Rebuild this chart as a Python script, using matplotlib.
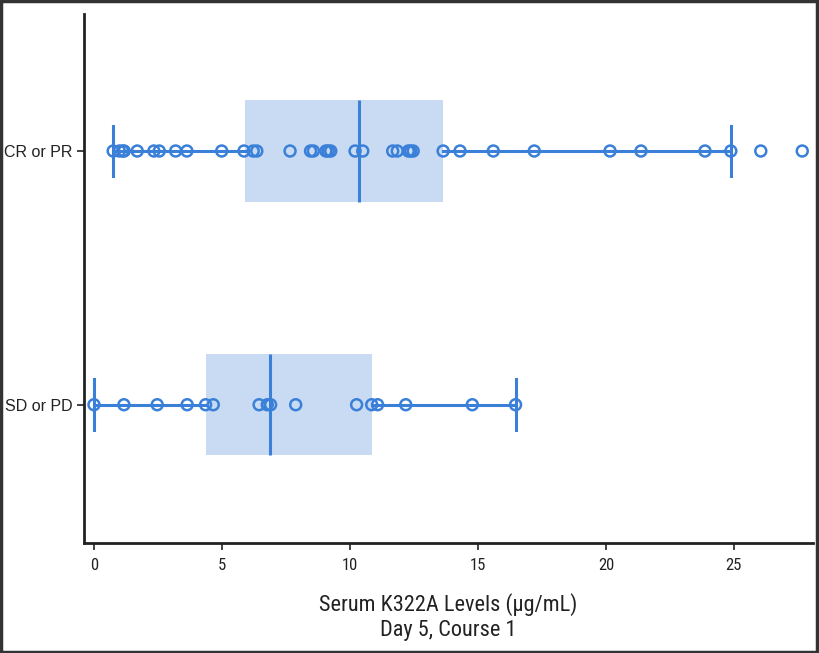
import matplotlib
matplotlib.use("Agg")
import matplotlib.pyplot as plt
from matplotlib.patches import Rectangle

categories = ["SD or PD", "CR or PR"]

cr_values = [0.75, 0.99, 1.12, 1.18, 1.69, 2.34, 2.55, 3.19, 3.63, 4.99, 5.86, 6.22,
             6.36, 7.66, 8.46, 8.57, 9.06, 9.15, 9.25, 10.20, 10.50, 11.67, 11.85,
             12.28, 12.37, 12.47, 13.64, 14.30, 15.60, 17.20, 20.16, 21.37, 23.87,
             24.88, 26.05, 27.67]
sd_values = [0.0, 1.17, 2.47, 3.64, 4.36, 4.66, 6.45, 6.77, 6.90, 7.88, 10.26,
             10.85, 11.08, 12.18, 14.78, 16.47]

# box statistics: whisker low, q1, median, q3, whisker high
cr_stats = dict(whislo=0.75, q1=5.90, med=10.35, q3=13.63, whishi=24.88)
sd_stats = dict(whislo=0.0, q1=4.38, med=6.88, q3=10.87, whishi=16.47)

xticks = [0, 5, 10, 15, 20, 25]

blue = "#3a80d9"
fill = "#c8dbf3"
narrow = ["Roboto Condensed", "DejaVu Sans"]

fig = plt.figure(figsize=(8.19, 6.53), dpi=100)
ax = fig.add_axes([84/819, 1-543/653, (813-84)/819, (543-14)/653])

stats = []
for s, lab in zip([sd_stats, cr_stats], categories):
    d = dict(s)
    d["label"] = lab
    d["fliers"] = []
    stats.append(d)

ax.bxp(stats, positions=[0, 1], vert=False, widths=0.4, patch_artist=True,
       showfliers=False, capwidths=0.2,
       boxprops=dict(facecolor=fill, edgecolor="none", linewidth=0),
       medianprops=dict(color=blue, linewidth=2.2),
       whiskerprops=dict(color=blue, linewidth=2.2),
       capprops=dict(color=blue, linewidth=2.2))

for pos, vals in zip([0, 1], [sd_values, cr_values]):
    ax.scatter(vals, [pos]*len(vals), s=62, facecolors="none",
               edgecolors=blue, linewidths=1.8, zorder=5)

ax.set_xlim(-0.39, 28.09)
ax.set_ylim(-0.545, 1.54)
ax.set_yticks([0, 1])
ax.set_yticklabels(categories, fontsize=11.5, family=["Liberation Sans", "DejaVu Sans"],
                   color="#222222")
ax.set_xticks(xticks)
ax.set_xticklabels([str(t) for t in xticks], fontsize=12, family=narrow, color="#222222")
ax.tick_params(axis="both", length=5, width=1.2, color="#222222")
ax.tick_params(axis="x", pad=6)
ax.set_xlabel("Serum K322A Levels (\u03bcg/mL)\nDay 5, Course 1", fontsize=16,
              family=narrow, labelpad=14, linespacing=1.25, color="#222222")

for sp in ["top", "right"]:
    ax.spines[sp].set_visible(False)
for sp in ["left", "bottom"]:
    ax.spines[sp].set_linewidth(2)
    ax.spines[sp].set_color("#222222")

fig.patches.append(Rectangle((0.001, 0.001), 0.997, 0.997, transform=fig.transFigure,
                             fill=False, edgecolor="#333333", linewidth=2.5))

fig.savefig("out.png", dpi=100)
